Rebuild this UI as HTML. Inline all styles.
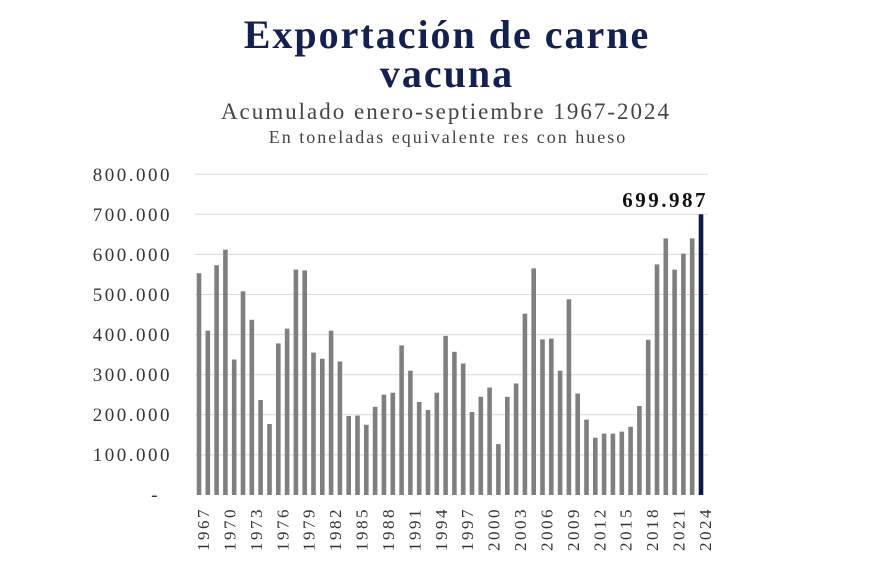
<!DOCTYPE html>
<html><head><meta charset="utf-8"><style>
html,body{margin:0;padding:0;background:#fff;}
body{width:870px;height:580px;overflow:hidden;}
</style></head><body>
<svg width="870" height="580" xmlns="http://www.w3.org/2000/svg" font-family="'Liberation Serif', serif">
<text x="447" y="48" text-anchor="middle" font-size="40" font-weight="bold" letter-spacing="2" fill="#14204e">Exportación de carne</text>
<text x="447" y="87" text-anchor="middle" font-size="40" font-weight="bold" letter-spacing="2" fill="#14204e">vacuna</text>
<text x="446" y="119" text-anchor="middle" font-size="23" letter-spacing="2" fill="#444">Acumulado enero-septiembre 1967-2024</text>
<text x="448" y="143" text-anchor="middle" font-size="18" letter-spacing="2" fill="#444">En toneladas equivalente res con hueso</text>
<g stroke="#d9d9d9" stroke-width="1">
<line x1="195" x2="708" y1="454.9" y2="454.9"/><line x1="195" x2="708" y1="414.8" y2="414.8"/>
<line x1="195" x2="708" y1="374.7" y2="374.7"/><line x1="195" x2="708" y1="334.6" y2="334.6"/>
<line x1="195" x2="708" y1="294.5" y2="294.5"/><line x1="195" x2="708" y1="254.4" y2="254.4"/>
<line x1="195" x2="708" y1="214.3" y2="214.3"/><line x1="195" x2="708" y1="174.2" y2="174.2"/>
</g>
<g font-size="19" letter-spacing="2.5" fill="#333" text-anchor="end">
<text x="160" y="501">-</text>
<text x="172" y="461">100.000</text><text x="172" y="421">200.000</text>
<text x="172" y="381">300.000</text><text x="172" y="341">400.000</text>
<text x="172" y="301">500.000</text><text x="172" y="261">600.000</text>
<text x="172" y="221">700.000</text><text x="172" y="181">800.000</text>
</g>
<g fill="#7f7f7f">
<rect x="196.7" y="273.2" width="4.6" height="221.8"/>
<rect x="205.5" y="330.6" width="4.6" height="164.4"/>
<rect x="214.3" y="265.2" width="4.6" height="229.8"/>
<rect x="223.1" y="249.6" width="4.6" height="245.4"/>
<rect x="231.9" y="359.5" width="4.6" height="135.5"/>
<rect x="240.7" y="291.3" width="4.6" height="203.7"/>
<rect x="249.5" y="319.8" width="4.6" height="175.2"/>
<rect x="258.3" y="400.0" width="4.6" height="95.0"/>
<rect x="267.2" y="424.0" width="4.6" height="71.0"/>
<rect x="276.0" y="343.4" width="4.6" height="151.6"/>
<rect x="284.8" y="328.6" width="4.6" height="166.4"/>
<rect x="293.6" y="269.6" width="4.6" height="225.4"/>
<rect x="302.4" y="270.4" width="4.6" height="224.6"/>
<rect x="311.2" y="352.6" width="4.6" height="142.4"/>
<rect x="320.0" y="358.7" width="4.6" height="136.3"/>
<rect x="328.8" y="330.6" width="4.6" height="164.4"/>
<rect x="337.6" y="361.5" width="4.6" height="133.5"/>
<rect x="346.4" y="416.0" width="4.6" height="79.0"/>
<rect x="355.2" y="415.6" width="4.6" height="79.4"/>
<rect x="364.0" y="424.8" width="4.6" height="70.2"/>
<rect x="372.8" y="406.8" width="4.6" height="88.2"/>
<rect x="381.6" y="394.7" width="4.6" height="100.3"/>
<rect x="390.5" y="392.7" width="4.6" height="102.3"/>
<rect x="399.3" y="345.4" width="4.6" height="149.6"/>
<rect x="408.1" y="370.7" width="4.6" height="124.3"/>
<rect x="416.9" y="402.0" width="4.6" height="93.0"/>
<rect x="425.7" y="410.0" width="4.6" height="85.0"/>
<rect x="434.5" y="392.7" width="4.6" height="102.3"/>
<rect x="443.3" y="335.8" width="4.6" height="159.2"/>
<rect x="452.1" y="351.8" width="4.6" height="143.2"/>
<rect x="460.9" y="363.5" width="4.6" height="131.5"/>
<rect x="469.7" y="412.0" width="4.6" height="83.0"/>
<rect x="478.5" y="396.8" width="4.6" height="98.2"/>
<rect x="487.3" y="387.5" width="4.6" height="107.5"/>
<rect x="496.1" y="444.1" width="4.6" height="50.9"/>
<rect x="505.0" y="396.8" width="4.6" height="98.2"/>
<rect x="513.8" y="383.5" width="4.6" height="111.5"/>
<rect x="522.6" y="313.7" width="4.6" height="181.3"/>
<rect x="531.4" y="268.4" width="4.6" height="226.6"/>
<rect x="540.2" y="339.4" width="4.6" height="155.6"/>
<rect x="549.0" y="338.6" width="4.6" height="156.4"/>
<rect x="557.8" y="370.7" width="4.6" height="124.3"/>
<rect x="566.6" y="299.3" width="4.6" height="195.7"/>
<rect x="575.4" y="393.5" width="4.6" height="101.5"/>
<rect x="584.2" y="419.6" width="4.6" height="75.4"/>
<rect x="593.0" y="437.7" width="4.6" height="57.3"/>
<rect x="601.8" y="433.6" width="4.6" height="61.4"/>
<rect x="610.6" y="433.6" width="4.6" height="61.4"/>
<rect x="619.5" y="431.6" width="4.6" height="63.4"/>
<rect x="628.3" y="426.8" width="4.6" height="68.2"/>
<rect x="637.1" y="406.0" width="4.6" height="89.0"/>
<rect x="645.9" y="339.8" width="4.6" height="155.2"/>
<rect x="654.7" y="264.4" width="4.6" height="230.6"/>
<rect x="663.5" y="238.4" width="4.6" height="256.6"/>
<rect x="672.3" y="269.6" width="4.6" height="225.4"/>
<rect x="681.1" y="253.6" width="4.6" height="241.4"/>
<rect x="689.9" y="238.4" width="4.6" height="256.6"/>
<rect x="698.7" y="214.3" width="4.6" height="280.7" fill="#0f1a4a"/>
</g>
<g font-size="17" letter-spacing="2.5" fill="#333">
<text transform="translate(209,551) rotate(-90)">1967</text>
<text transform="translate(235.4,551) rotate(-90)">1970</text>
<text transform="translate(261.8,551) rotate(-90)">1973</text>
<text transform="translate(288.3,551) rotate(-90)">1976</text>
<text transform="translate(314.7,551) rotate(-90)">1979</text>
<text transform="translate(341.1,551) rotate(-90)">1982</text>
<text transform="translate(367.5,551) rotate(-90)">1985</text>
<text transform="translate(393.9,551) rotate(-90)">1988</text>
<text transform="translate(420.4,551) rotate(-90)">1991</text>
<text transform="translate(446.8,551) rotate(-90)">1994</text>
<text transform="translate(473.2,551) rotate(-90)">1997</text>
<text transform="translate(499.6,551) rotate(-90)">2000</text>
<text transform="translate(526.1,551) rotate(-90)">2003</text>
<text transform="translate(552.5,551) rotate(-90)">2006</text>
<text transform="translate(578.9,551) rotate(-90)">2009</text>
<text transform="translate(605.3,551) rotate(-90)">2012</text>
<text transform="translate(631.7,551) rotate(-90)">2015</text>
<text transform="translate(658.2,551) rotate(-90)">2018</text>
<text transform="translate(684.6,551) rotate(-90)">2021</text>
<text transform="translate(711,551) rotate(-90)">2024</text>
</g>
<text x="708" y="207" text-anchor="end" font-size="21" font-weight="bold" letter-spacing="2.5" fill="#111">699.987</text>
</svg>
</body></html>
